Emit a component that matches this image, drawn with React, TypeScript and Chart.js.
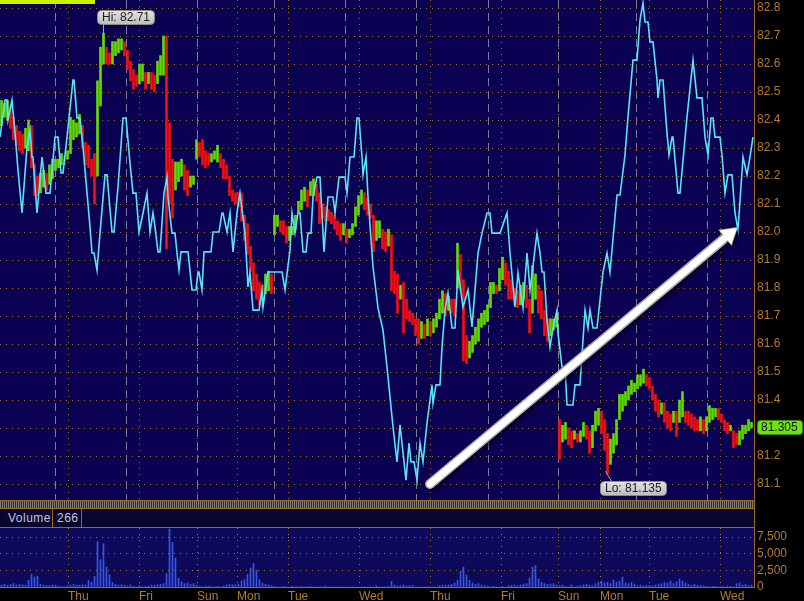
import { useEffect, useRef } from 'react';
import { Chart, registerables } from 'chart.js';

Chart.register(...registerables);

// ---------- data ----------
// time axis in minutes from the left edge of the window; one price bar per hour
const BAR_MINUTES = 60;
const axisEndMinutes = 15080;

const dayTickMinutes = [1360, 2780, 3940, 4740, 5760, 7180, 8600, 10020, 11160, 12000, 12980, 14400];
const dayTickLabels = ['Thu', 'Fri', 'Sun', 'Mon', 'Tue', 'Wed', 'Thu', 'Fri', 'Sun', 'Mon', 'Tue', 'Wed'];
const sessionBreakMinutes = [1100, 2520, 3940, 5480, 6900, 8320, 9760, 11160, 12720, 14140];

const priceTicks = [81.1, 81.2, 81.3, 81.4, 81.5, 81.6, 81.7, 81.8, 81.9, 82.0, 82.1, 82.2, 82.3, 82.4, 82.5, 82.6, 82.7, 82.8];
const volumeTicks = [0, 2500, 5000, 7500];

const priceHigh = [
  82.47, 82.46, 82.47, 82.45, 82.41, 82.38, 82.36, 82.35, 82.37, 82.40,
  82.38, 82.24, 82.20, 82.21, 82.22, 82.21, 82.24, 82.26, 82.26, 82.26,
  82.28, 82.27, 82.29, 82.41, 82.40, 82.39, 82.42, 82.38, 82.32, 82.31,
  82.26, 82.28, 82.54, 82.66, 82.71, 82.66, 82.64, 82.68, 82.68, 82.69,
  82.69, 82.68, 82.65, 82.61, 82.58, 82.56, 82.60, 82.60, 82.57, 82.57,
  82.57, 82.56, 82.61, 82.63, 82.70, 82.70, 82.39, 82.26, 82.25, 82.25,
  82.26, 82.24, 82.22, 82.20, 82.20, 82.33, 82.32, 82.33, 82.29, 82.28,
  82.28, 82.29, 82.31, 82.28, 82.26, 82.24, 82.20, 82.15, 82.14, 82.14,
  82.14, 82.06, 82.03, 81.95, 81.89, 81.85, 81.82, 81.81, 81.85, 81.86,
  81.85, 82.06, 82.06, 82.04, 82.04, 82.02, 82.02, 82.02, 82.06, 82.11,
  82.15, 82.16, 82.15, 82.18, 82.19, 82.17, 82.14, 82.10, 82.09, 82.08,
  82.07, 82.06, 82.04, 82.03, 82.03, 82.01, 82.01, 82.03, 82.09, 82.13,
  82.15, 82.14, 82.12, 82.10, 82.06, 82.04, 82.04, 82.01, 82.00, 82.01,
  81.99, 81.86, 81.85, 81.81, 81.82, 81.76, 81.72, 81.71, 81.69, 81.69,
  81.68, 81.67, 81.69, 81.68, 81.69, 81.71, 81.76, 81.79, 81.78, 81.77,
  81.76, 81.76, 81.96, 81.92, 81.83, 81.63, 81.61, 81.63, 81.66, 81.69,
  81.71, 81.72, 81.74, 81.82, 81.82, 81.81, 81.87, 81.91, 81.89, 81.86,
  81.83, 81.80, 81.79, 81.81, 81.82, 81.81, 81.76, 81.88, 81.85, 81.81,
  81.79, 81.72, 81.69, 81.69, 81.69, 81.70, 81.33, 81.31, 81.32, 81.30,
  81.29, 81.29, 81.28, 81.29, 81.32, 81.31, 81.29, 81.31, 81.36, 81.37,
  81.36, 81.33, 81.28, 81.26, 81.28, 81.33, 81.42, 81.42, 81.43, 81.45,
  81.47, 81.46, 81.49, 81.49, 81.51, 81.49, 81.48, 81.45, 81.42, 81.40,
  81.39, 81.39, 81.36, 81.35, 81.36, 81.36, 81.40, 81.43, 81.36, 81.36,
  81.35, 81.34, 81.33, 81.34, 81.33, 81.34, 81.38, 81.37, 81.37, 81.37,
  81.35, 81.33, 81.32, 81.31, 81.29, 81.28, 81.29, 81.31, 81.31, 81.33,
  81.32,
];

const priceLow = [
  82.38, 82.41, 82.40, 82.37, 82.33, 82.31, 82.29, 82.28, 82.30, 82.29,
  82.23, 82.13, 82.13, 82.14, 82.16, 82.15, 82.17, 82.19, 82.22, 82.23,
  82.24, 82.24, 82.26, 82.28, 82.33, 82.34, 82.35, 82.30, 82.24, 82.23,
  82.20, 82.10, 82.20, 82.45, 82.60, 82.60, 82.60, 82.60, 82.63, 82.64,
  82.65, 82.63, 82.58, 82.54, 82.51, 82.52, 82.53, 82.54, 82.51, 82.53,
  82.51, 82.50, 82.53, 82.56, 82.56, 81.94, 82.10, 82.05, 82.15, 82.18,
  82.20, 82.15, 82.13, 82.16, 82.17, 82.26, 82.27, 82.24, 82.23, 82.24,
  82.25, 82.26, 82.25, 82.23, 82.19, 82.19, 82.13, 82.11, 82.10, 82.09,
  82.04, 81.97, 81.92, 81.86, 81.79, 81.76, 81.74, 81.73, 81.78, 81.79,
  81.78, 81.99, 82.02, 82.00, 81.99, 81.96, 81.97, 81.99, 82.01, 82.07,
  82.08, 82.11, 82.09, 82.13, 82.13, 82.11, 82.03, 82.05, 82.04, 82.04,
  82.03, 82.01, 81.99, 81.97, 81.99, 81.96, 81.98, 81.99, 82.02, 82.06,
  82.10, 82.08, 82.06, 82.05, 81.93, 81.97, 81.98, 81.94, 81.93, 81.95,
  81.79, 81.78, 81.71, 81.76, 81.64, 81.69, 81.68, 81.67, 81.63, 81.60,
  81.62, 81.62, 81.63, 81.63, 81.64, 81.66, 81.69, 81.71, 81.70, 81.72,
  81.71, 81.70, 81.80, 81.79, 81.54, 81.53, 81.55, 81.57, 81.60, 81.61,
  81.66, 81.67, 81.68, 81.73, 81.78, 81.78, 81.79, 81.83, 81.81, 81.76,
  81.76, 81.74, 81.73, 81.74, 81.76, 81.73, 81.64, 81.71, 81.76, 81.71,
  81.69, 81.63, 81.61, 81.63, 81.65, 81.66, 81.19, 81.25, 81.26, 81.24,
  81.23, 81.26, 81.25, 81.25, 81.27, 81.26, 81.21, 81.23, 81.29, 81.31,
  81.28, 81.22, 81.135, 81.17, 81.21, 81.24, 81.33, 81.36, 81.38, 81.40,
  81.42, 81.43, 81.44, 81.45, 81.46, 81.45, 81.44, 81.40, 81.36, 81.34,
  81.35, 81.32, 81.30, 81.29, 81.32, 81.27, 81.32, 81.34, 81.32, 81.31,
  81.30, 81.29, 81.29, 81.29, 81.28, 81.29, 81.32, 81.33, 81.34, 81.33,
  81.32, 81.29, 81.28, 81.29, 81.23, 81.24, 81.24, 81.26, 81.28, 81.29,
  81.30,
];

const volume = [
  300, 400, 250, 350, 500, 300, 400, 350, 300, 1000,
  1850, 1500, 1600, 400, 300, 250, 200, 300, 250, 150,
  100, 0, 200, 300, 400, 300, 250, 350, 300, 1000,
  700, 1600, 6800, 4100, 6500, 3000, 1850, 700, 400, 300,
  350, 250, 150, 300, 100, 0, 200, 0, 100, 150,
  300, 250, 350, 400, 500, 2000, 8700, 6700, 4350, 1300,
  800, 500, 600, 400, 500, 250, 100, 0, 150, 100,
  0, 0, 100, 0, 150, 300, 400, 350, 300, 450,
  900, 1100, 1850, 2850, 3500, 2500, 1100, 600, 400, 300,
  200, 100, 0, 0, 100, 0, 0, 100, 0, 0,
  50, 0, 0, 100, 0, 0, 0, 0, 150, 0,
  0, 0, 0, 0, 0, 0, 0, 0, 0, 0,
  0, 0, 0, 0, 0, 150, 0, 0, 0, 100,
  850, 300, 150, 200, 300, 150, 200, 250, 0, 0,
  0, 0, 0, 0, 0, 0, 200, 300, 250, 300,
  400, 600, 1000, 2350, 3000, 1800, 1000, 600, 400, 500,
  300, 200, 150, 0, 100, 0, 0, 100, 0, 200,
  250, 300, 200, 300, 400, 500, 1350, 3000, 3200, 1200,
  700, 500, 400, 450, 500, 300, 200, 300, 100, 0,
  300, 0, 150, 200, 300, 400, 300, 200, 500, 700,
  900, 600, 700, 500, 1000, 700, 900, 1500, 600, 500,
  700, 400, 200, 300, 150, 200, 250, 200, 300, 400,
  500, 700, 600, 900, 500, 800, 1200, 900, 600, 400,
  300, 400, 250, 200, 150, 100, 0, 100, 50, 0,
  100, 0, 150, 100, 0, 500, 600, 300, 400, 200,
  266,
];

// indicator line (drawn on the price scale)
const indicatorTime = [
  0, 100, 140, 160, 240, 300, 360, 440, 540, 600,
  640, 660, 740, 840, 920, 1000, 1100, 1160, 1220, 1260,
  1340, 1460, 1480, 1540, 1600, 1660, 1800, 1840, 1880, 1940,
  2000, 2100, 2140, 2240, 2280, 2360, 2460, 2520, 2600, 2660,
  2720, 2780, 2860, 2940, 3000, 3060, 3100, 3160, 3200, 3280,
  3340, 3360, 3440, 3500, 3540, 3580, 3620, 3760, 3840, 3920,
  3960, 3980, 4040, 4080, 4220, 4260, 4380, 4440, 4460, 4540,
  4600, 4660, 4740, 4800, 4900, 4960, 5000, 5060, 5180, 5240,
  5260, 5360, 5640, 5700, 5800, 5840, 5900, 5960, 6000, 6060,
  6120, 6160, 6220, 6260, 6340, 6400, 6480, 6560, 6660, 6700,
  6780, 6900, 6940, 7000, 7080, 7140, 7180, 7240, 7260, 7320,
  7360, 7460, 7560, 7660, 7740, 7860, 7940, 8000, 8120, 8180,
  8220, 8280, 8340, 8400, 8460, 8540, 8640, 8660, 8720, 8800,
  8840, 8900, 8960, 9040, 9100, 9160, 9260, 9360, 9440, 9560,
  9640, 9740, 9800, 9840, 10000, 10140, 10200, 10300, 10360, 10460,
  10540, 10600, 10740, 10800, 10840, 10880, 10940, 11000, 11060, 11140,
  11160, 11240, 11300, 11340, 11460, 11500, 11600, 11700, 11760, 11800,
  11860, 11940, 12060, 12140, 12200, 12340, 12400, 12500, 12560, 12660,
  12740, 12800, 12860, 12900, 12960, 13000, 13060, 13140, 13160, 13200,
  13260, 13340, 13380, 13440, 13460, 13560, 13600, 13740, 13860, 13940,
  14040, 14100, 14160, 14220, 14260, 14300, 14400, 14440, 14500, 14560,
  14640, 14700, 14760, 14860, 14940, 15000, 15060,
];

const indicatorValue = [
  82.339, 82.471, 82.471, 82.400, 82.471, 82.354, 82.221, 82.068, 82.304, 82.364,
  82.268, 82.268, 82.068, 82.268, 82.139, 82.139, 82.339, 82.339, 82.211, 82.211,
  82.339, 82.543, 82.543, 82.407, 82.407, 82.304, 82.018, 81.925, 81.925, 81.864,
  81.996, 82.204, 82.204, 82.000, 82.000, 82.161, 82.407, 82.407, 82.246, 82.139,
  82.139, 82.000, 82.068, 82.139, 82.000, 82.068, 82.018, 81.929, 81.929, 82.139,
  82.196, 82.125, 81.996, 81.996, 81.925, 81.864, 81.929, 81.929, 81.793, 81.793,
  81.857, 81.857, 81.793, 81.929, 81.929, 82.000, 82.000, 82.068, 82.068, 82.000,
  82.068, 81.929, 82.068, 82.139, 81.996, 81.804, 81.854, 81.721, 81.721, 81.793,
  81.732, 81.857, 81.857, 81.793, 81.936, 82.068, 81.996, 82.068, 82.068, 81.929,
  81.929, 81.996, 81.996, 82.125, 82.196, 82.196, 81.929, 82.125, 82.125, 82.068,
  82.196, 82.196, 82.139, 82.268, 82.268, 82.407, 82.407, 82.268, 82.204, 82.268,
  82.125, 81.875, 81.729, 81.650, 81.518, 81.304, 81.179, 81.311, 81.114, 81.246,
  81.179, 81.179, 81.114, 81.246, 81.179, 81.318, 81.454, 81.389, 81.454, 81.454,
  81.589, 81.721, 81.782, 81.657, 81.657, 81.864, 81.732, 81.793, 81.661, 81.925,
  81.996, 82.068, 82.068, 81.996, 81.996, 82.068, 81.925, 81.732, 81.854, 81.729,
  81.925, 81.793, 81.996, 81.925, 81.857, 81.857, 81.686, 81.589, 81.657, 81.721,
  81.639, 81.518, 81.518, 81.382, 81.382, 81.454, 81.454, 81.721, 81.657, 81.721,
  81.657, 81.657, 81.857, 81.925, 81.857, 82.132, 82.132, 82.275, 82.411, 82.614,
  82.614, 82.757, 82.818, 82.750, 82.750, 82.679, 82.679, 82.543, 82.479, 82.543,
  82.543, 82.354, 82.275, 82.339, 82.339, 82.139, 82.139, 82.411, 82.614, 82.479,
  82.479, 82.339, 82.275, 82.407, 82.407, 82.339, 82.339, 82.275, 82.139, 82.204,
  82.204, 82.068, 82.007, 82.268, 82.204, 82.268, 82.339,
];

const lastPrice = 81.305;
const trendArrowStart = [8600, 81.1];
const trendArrowEnd = [14760, 82.018];

// ---------- styles ----------
const FONT = '"Liberation Sans", Arial, sans-serif';
const NAVY = '#0b0152';
const NAVY_VOL = '#0d0a5c';
const ORANGE_GRID = '#a8721e';
const ORANGE_TEXT = '#b47a30';
const ORANGE_LINE = '#a06a1a';
const GRAY_DASH = '#7c7c92';
const GREEN = '#62dc00';
const RED = '#f41010';
const CYAN = '#5ae2f6';
const VOL_BLUE = '#3556e6';

const PRICE_MAX = 82.8286;
const PRICE_MIN = 81.0429;
const VOLUME_MAX = 8850;

const bgPlugin = (color: string) => ({
  id: 'panelBg',
  beforeDraw(chart: any) {
    const { ctx, chartArea: a } = chart;
    ctx.save();
    ctx.fillStyle = color;
    ctx.fillRect(a.left, a.top, a.right - a.left, a.bottom - a.top);
    ctx.restore();
  },
});

function roundRectPath(ctx: CanvasRenderingContext2D, x: number, y: number, w: number, h: number, r: number) {
  ctx.beginPath();
  ctx.moveTo(x + r, y);
  ctx.lineTo(x + w - r, y);
  ctx.arcTo(x + w, y, x + w, y + r, r);
  ctx.lineTo(x + w, y + h - r);
  ctx.arcTo(x + w, y + h, x + w - r, y + h, r);
  ctx.lineTo(x + r, y + h);
  ctx.arcTo(x, y + h, x, y + h - r, r);
  ctx.lineTo(x, y + r);
  ctx.arcTo(x, y, x + r, y, r);
  ctx.closePath();
}

function drawCallout(ctx: CanvasRenderingContext2D, text: string, left: number, top: number, ax: number, ay: number, bx: number, by: number) {
  ctx.save();
  ctx.font = `12px ${FONT}`;
  const w = Math.round(ctx.measureText(text).width + 9);
  const h = 14;
  ctx.strokeStyle = '#a8a8b0';
  ctx.lineWidth = 1;
  ctx.beginPath();
  ctx.moveTo(ax, ay);
  ctx.lineTo(bx, by);
  ctx.stroke();
  const g = ctx.createLinearGradient(0, top, 0, top + h);
  g.addColorStop(0, '#e6e6e6');
  g.addColorStop(1, '#bdbdbd');
  roundRectPath(ctx, left + 0.5, top + 0.5, w, h, 4);
  ctx.fillStyle = g;
  ctx.fill();
  ctx.strokeStyle = '#8a8a8a';
  ctx.stroke();
  ctx.fillStyle = '#1c1c1c';
  ctx.textBaseline = 'middle';
  ctx.textAlign = 'left';
  ctx.fillText(text, left + 5, top + h / 2 + 1);
  ctx.restore();
}

const overlayPlugin = {
  id: 'overlay',
  afterDraw(chart: any) {
    const { ctx, scales, chartArea } = chart;
    const xs = scales.x;
    const ys = scales.y;

    // trend arrow
    const x1 = xs.getPixelForValue(trendArrowStart[0]);
    const y1 = ys.getPixelForValue(trendArrowStart[1]);
    const x2 = xs.getPixelForValue(trendArrowEnd[0]);
    const y2 = ys.getPixelForValue(trendArrowEnd[1]);
    const ang = Math.atan2(y2 - y1, x2 - x1);
    const c = Math.cos(ang);
    const s = Math.sin(ang);
    const headLen = 17;
    const headHalf = 10.5;
    const bx = x2 - headLen * c;
    const by = y2 - headLen * s;
    const drawArrow = (shaftW: number, color: string, shrink: number) => {
      ctx.strokeStyle = color;
      ctx.fillStyle = color;
      ctx.lineWidth = shaftW;
      ctx.lineCap = 'round';
      ctx.beginPath();
      ctx.moveTo(x1, y1);
      ctx.lineTo(bx + 2 * c, by + 2 * s);
      ctx.stroke();
      const hx = x2 - shrink * c;
      const hy = y2 - shrink * s;
      const hh = headHalf - shrink;
      const bbx = bx + shrink * 0.4 * c;
      const bby = by + shrink * 0.4 * s;
      ctx.beginPath();
      ctx.moveTo(hx, hy);
      ctx.lineTo(bbx - hh * s, bby + hh * c);
      ctx.lineTo(bbx + hh * s, bby - hh * c);
      ctx.closePath();
      ctx.fill();
    };
    ctx.save();
    ctx.shadowColor = 'rgba(0,0,0,0.65)';
    ctx.shadowBlur = 4;
    ctx.shadowOffsetX = 2;
    ctx.shadowOffsetY = 2;
    drawArrow(10, '#a9a9b4', 0);
    ctx.restore();
    ctx.save();
    drawArrow(7, '#ffffff', 1.5);
    ctx.restore();

    // Hi / Lo callouts
    let hiIdx = 0;
    let loIdx = 0;
    priceHigh.forEach((v, i) => { if (v > priceHigh[hiIdx]) hiIdx = i; });
    priceLow.forEach((v, i) => { if (v < priceLow[loIdx]) loIdx = i; });
    const hx = xs.getPixelForValue(hiIdx * BAR_MINUTES + BAR_MINUTES / 2);
    const hy = ys.getPixelForValue(priceHigh[hiIdx]);
    drawCallout(ctx, `Hi: ${priceHigh[hiIdx]}`, Math.round(hx - 7), Math.round(hy - 23), hx, hy, hx, hy - 9);
    const lx = xs.getPixelForValue(loIdx * BAR_MINUTES + BAR_MINUTES / 2);
    const ly = ys.getPixelForValue(priceLow[loIdx]);
    drawCallout(ctx, `Lo: ${priceLow[loIdx]}`, Math.round(lx - 8), Math.round(ly + 7), lx - 2, ly - 3, lx + 4, ly + 7);

    // last price tag on the axis
    const ty = ys.getPixelForValue(lastPrice);
    ctx.save();
    ctx.font = `12px ${FONT}`;
    const tw = 45;
    roundRectPath(ctx, chartArea.right + 3.5, Math.round(ty - 7) + 0.5, tw, 14, 3);
    ctx.fillStyle = '#6ee014';
    ctx.fill();
    ctx.strokeStyle = '#3a8a06';
    ctx.lineWidth = 1;
    ctx.stroke();
    ctx.fillStyle = '#0c1a00';
    ctx.textBaseline = 'middle';
    ctx.textAlign = 'left';
    ctx.fillText(lastPrice.toFixed(3), chartArea.right + 7, Math.round(ty) + 1);
    ctx.restore();
  },
};

const zeroPad = (scale: any) => {
  scale.paddingTop = 0;
  scale.paddingBottom = 0;
  scale.paddingLeft = 0;
  scale.paddingRight = 0;
};

function hiddenXAxis(ticks: number[], color: string, dash: number[]) {
  return {
    type: 'linear',
    position: 'bottom',
    min: 0,
    max: axisEndMinutes,
    offset: false,
    afterBuildTicks: (scale: any) => { scale.ticks = ticks.map((v) => ({ value: v })); },
    afterFit: (scale: any) => { scale.height = 0; zeroPad(scale); },
    ticks: { display: false },
    grid: { color, lineWidth: 1, drawTicks: false, offset: false },
    border: { display: false, dash },
  };
}

export default function App() {
  const mainRef = useRef<HTMLCanvasElement>(null);
  const volRef = useRef<HTMLCanvasElement>(null);

  useEffect(() => {
    const mids = priceHigh.map((h, i) => (h + priceLow[i]) / 2);
    const barColors = mids.map((m, i) => (i === 0 || m >= mids[i - 1] ? GREEN : RED));

    const main = new Chart(mainRef.current as HTMLCanvasElement, {
      type: 'bar',
      data: {
        datasets: [
          {
            type: 'line',
            data: indicatorTime.map((t, i) => ({ x: t, y: indicatorValue[i] })),
            borderColor: CYAN,
            borderWidth: 1.6,
            pointRadius: 0,
            tension: 0,
            order: 0,
          } as any,
          {
            type: 'bar',
            data: priceHigh.map((h, i) => ({ x: i * BAR_MINUTES + BAR_MINUTES / 2, y: [priceLow[i], h] })),
            backgroundColor: barColors,
            borderWidth: 0,
            barThickness: 2,
            order: 1,
          } as any,
        ],
      },
      options: {
        animation: false,
        responsive: false,
        maintainAspectRatio: false,
        layout: { padding: 0 },
        plugins: { legend: { display: false }, tooltip: { enabled: false } },
        scales: {
          x: hiddenXAxis(dayTickMinutes, ORANGE_GRID, [1, 5]) as any,
          x2: hiddenXAxis(sessionBreakMinutes, GRAY_DASH, [8, 5]) as any,
          y: {
            type: 'linear',
            position: 'right',
            min: PRICE_MIN,
            max: PRICE_MAX,
            afterBuildTicks: (scale: any) => { scale.ticks = priceTicks.map((v) => ({ value: v })); },
            afterFit: (scale: any) => { scale.width = 50; zeroPad(scale); },
            ticks: {
              color: ORANGE_TEXT,
              padding: 3,
              font: { family: FONT, size: 12 },
              callback: (v: any) => Number(v).toFixed(1),
            },
            grid: { color: ORANGE_GRID, lineWidth: 1, drawTicks: false },
            border: { display: false, dash: [1, 5] },
          } as any,
        },
      },
      plugins: [bgPlugin(NAVY), overlayPlugin],
    });

    const vol = new Chart(volRef.current as HTMLCanvasElement, {
      type: 'bar',
      data: {
        datasets: [
          {
            data: volume.map((v, i) => ({ x: i * BAR_MINUTES + BAR_MINUTES / 2, y: v })),
            backgroundColor: VOL_BLUE,
            borderWidth: 0,
            barThickness: 1,
          } as any,
        ],
      },
      options: {
        animation: false,
        responsive: false,
        maintainAspectRatio: false,
        layout: { padding: 0 },
        plugins: { legend: { display: false }, tooltip: { enabled: false } },
        scales: {
          x: {
            type: 'linear',
            position: 'bottom',
            min: 0,
            max: axisEndMinutes,
            offset: false,
            afterBuildTicks: (scale: any) => { scale.ticks = dayTickMinutes.map((v) => ({ value: v })); },
            afterFit: (scale: any) => { scale.height = 14; zeroPad(scale); },
            ticks: {
              color: ORANGE_TEXT,
              align: 'start',
              padding: 2,
              autoSkip: false,
              maxRotation: 0,
              font: { family: FONT, size: 12 },
              callback: (_v: any, idx: number) => dayTickLabels[idx],
            },
            grid: { color: ORANGE_GRID, lineWidth: 1, drawTicks: false, offset: false },
            border: { display: false, dash: [1, 5] },
          } as any,
          y: {
            type: 'linear',
            position: 'right',
            min: 0,
            max: VOLUME_MAX,
            afterBuildTicks: (scale: any) => { scale.ticks = volumeTicks.map((v) => ({ value: v })); },
            afterFit: (scale: any) => { scale.width = 50; zeroPad(scale); },
            ticks: {
              color: ORANGE_TEXT,
              padding: 3,
              font: { family: FONT, size: 12 },
              callback: (v: any) => Number(v).toLocaleString('en-US'),
            },
            grid: { color: ORANGE_GRID, lineWidth: 1, drawTicks: false },
            border: { display: false, dash: [1, 5] },
          } as any,
        },
      },
      plugins: [bgPlugin(NAVY_VOL)],
    });

    return () => {
      main.destroy();
      vol.destroy();
    };
  }, []);

  const abs = (s: any) => ({ position: 'absolute' as const, ...s });

  return (
    <div style={{ position: 'fixed', left: 0, top: 0, width: 804, height: 601, background: '#000', overflow: 'hidden', fontFamily: FONT }}>
      <canvas ref={mainRef} width={804} height={500} style={abs({ left: 0, top: 0, width: 804, height: 500 })} />
      <div style={abs({ left: 0, top: 0, width: 95, height: 4, background: '#c8f400' })} />
      <div style={abs({ left: 0, top: 500, width: 755, height: 1, background: ORANGE_LINE })} />
      <div
        style={abs({
          left: 0,
          top: 501,
          width: 754,
          height: 7,
          backgroundColor: '#2e2e2e',
          backgroundImage: 'repeating-linear-gradient(90deg, #7e7e7e 0px, #7e7e7e 1px, #2e2e2e 1px, #2e2e2e 2px)',
        })}
      />
      <div style={abs({ left: 0, top: 508, width: 755, height: 1, background: ORANGE_LINE })} />
      <div style={abs({ left: 0, top: 509, width: 754, height: 18, background: '#08062f' })}>
        <span style={abs({ left: 8, top: 2, fontSize: 12, color: '#c8c8d4', letterSpacing: 0.5 })}>Volume</span>
        <div style={abs({ left: 52, top: 0, width: 1, height: 18, background: ORANGE_LINE })} />
        <span style={abs({ left: 57, top: 2, fontSize: 12, color: '#c8c8d4', letterSpacing: 0.5 })}>{String(volume[volume.length - 1])}</span>
        <div style={abs({ left: 81, top: 0, width: 1, height: 18, background: ORANGE_LINE })} />
      </div>
      <div style={abs({ left: 0, top: 527, width: 755, height: 1, background: ORANGE_LINE })} />
      <canvas ref={volRef} width={804} height={73} style={abs({ left: 0, top: 528, width: 804, height: 73 })} />
      <div style={abs({ left: 0, top: 587, width: 755, height: 1, background: ORANGE_LINE })} />
      <div style={abs({ left: 754, top: 0, width: 1, height: 588, background: ORANGE_LINE })} />
    </div>
  );
}
